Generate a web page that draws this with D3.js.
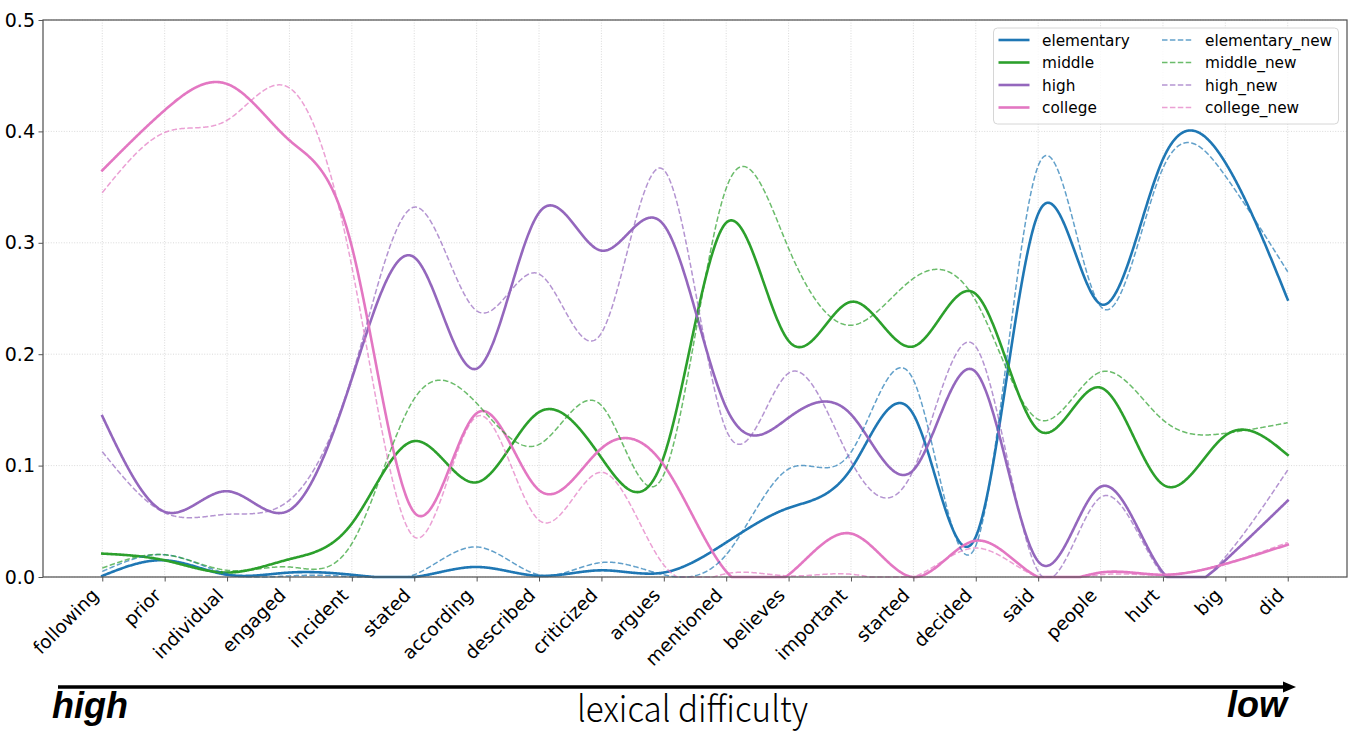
<!DOCTYPE html>
<html>
<head>
<meta charset="utf-8">
<script src="https://cdn.jsdelivr.net/npm/d3@7"></script>
<style>
  html, body { margin: 0; padding: 0; background: #fff; }
  svg { display: block; }
</style>
</head>
<body>
<svg id="chart" width="1357" height="735"></svg>
<script>
const categories = ["following","prior","individual","engaged","incident","stated","according","described","criticized","argues","mentioned","believes","important","started","decided","said","people","hurt","big","did"];

const elementary     = [0.001, 0.015, 0.002, 0.004, 0.002, 0.0, 0.009, 0.001, 0.006, 0.004, 0.031, 0.062, 0.097, 0.146, 0.036, 0.326, 0.245, 0.375, 0.372, 0.249];
const middle         = [0.021, 0.015, 0.004, 0.016, 0.048, 0.122, 0.085, 0.148, 0.107, 0.108, 0.318, 0.212, 0.247, 0.207, 0.254, 0.132, 0.170, 0.083, 0.127, 0.1095];
const high           = [0.1445, 0.0586, 0.077, 0.060, 0.178, 0.287, 0.187, 0.327, 0.293, 0.316, 0.152, 0.143, 0.146, 0.096, 0.184, 0.014, 0.081, 0.004, 0.015, 0.0685];
const college        = [0.365, 0.419, 0.4426, 0.392, 0.2965, 0.058, 0.147, 0.078, 0.1155, 0.1005, 0.005, 0.002, 0.039, 0.0, 0.0326, 0.0, 0.004, 0.002, 0.0117, 0.029];
const elementary_new = [0.005, 0.020, 0.003, 0.001, 0.0, 0.002, 0.027, 0.002, 0.013, 0.002, 0.020, 0.097, 0.112, 0.177, 0.028, 0.369, 0.243, 0.367, 0.360, 0.274];
const middle_new     = [0.008, 0.020, 0.006, 0.009, 0.030, 0.160, 0.156, 0.119, 0.154, 0.092, 0.349, 0.295, 0.226, 0.268, 0.248, 0.1415, 0.184, 0.141, 0.129, 0.1385];
const high_new       = [0.1125, 0.0577, 0.0563, 0.069, 0.180, 0.332, 0.239, 0.272, 0.219, 0.3654, 0.132, 0.183, 0.104, 0.096, 0.2067, 0.005, 0.0715, 0.002, 0.018, 0.096];
const college_new    = [0.345, 0.399, 0.410, 0.439, 0.2785, 0.036, 0.144, 0.051, 0.094, 0.0108, 0.003, 0.001, 0.0025, 0.0, 0.026, 0.0, 0.002, 0.002, 0.012, 0.031];

const yTicks = [0.0, 0.1, 0.2, 0.3, 0.4, 0.5];

const seriesNames = ["elementary","middle","high","college","elementary_new","middle_new","high_new","college_new"];
const seriesValues = [elementary, middle, high, college, elementary_new, middle_new, high_new, college_new];
const seriesColors = ["#1f77b4","#2ca02c","#9467bd","#e377c2","#1f77b4","#2ca02c","#9467bd","#e377c2"];
const seriesDashed = [false,false,false,false,true,true,true,true];

const svg = d3.select("#chart");
const L = 43, R = 1347, T = 20, B = 577;

const x = d3.scaleLinear().domain([-0.95, categories.length - 1 + 0.95]).range([L, R]);
const y = d3.scaleLinear().domain([0, 0.5]).range([B, T]);

// grid
const grid = svg.append("g");
grid.selectAll("line.vg").data(d3.range(categories.length)).enter().append("line")
  .attr("x1", d => x(d)).attr("x2", d => x(d)).attr("y1", T).attr("y2", B)
  .attr("stroke", "#d0d0d0").attr("stroke-width", 0.8).attr("stroke-dasharray", "1,1.6");
grid.selectAll("line.hg").data(yTicks).enter().append("line")
  .attr("x1", L).attr("x2", R).attr("y1", d => y(d)).attr("y2", d => y(d))
  .attr("stroke", "#d0d0d0").attr("stroke-width", 0.8).attr("stroke-dasharray", "1,1.6");

// lines
const curveGen = d3.line().x(d => d[0]).y(d => d[1]).curve(d3.curveNatural);
const linGen = d3.line();
const lines = svg.append("g");
seriesValues.forEach((vals, k) => {
  const pts = vals.map((v, i) => [x(i), y(v)]);
  const tmp = lines.append("path").attr("d", curveGen(pts)).attr("fill", "none");
  const node = tmp.node();
  const total = node.getTotalLength();
  const n = Math.ceil(total / 0.8);
  const sampled = [];
  for (let s = 0; s <= n; s++) {
    const p = node.getPointAtLength(total * s / n);
    sampled.push([p.x, Math.min(p.y, y(0))]);
  }
  tmp.remove();
  const path = lines.append("path")
    .attr("d", linGen(sampled))
    .attr("fill", "none")
    .attr("stroke", seriesColors[k])
    .attr("stroke-linejoin", "round");
  if (seriesDashed[k]) {
    path.attr("stroke-width", 1.5).attr("stroke-opacity", 0.7).attr("stroke-dasharray", "5.5,2.4");
  } else {
    path.attr("stroke-width", 2.6).attr("stroke-linecap", "square");
  }
});

// axes
const yAxis = svg.append("g").attr("transform", `translate(${L},0)`)
  .call(d3.axisLeft(y).tickValues(yTicks).tickFormat(d3.format(".1f")).tickSize(4.5).tickPadding(3.5).tickSizeOuter(0));
yAxis.select(".domain").remove();
yAxis.selectAll("line").attr("stroke", "#555").attr("stroke-width", 1);
yAxis.selectAll("text").attr("font-family", "DejaVu Sans").attr("font-size", "19px").attr("fill", "#000");

const xAxis = svg.append("g").attr("transform", `translate(0,${B})`)
  .call(d3.axisBottom(x).tickValues(d3.range(categories.length)).tickFormat(i => categories[i]).tickSize(4.5).tickSizeOuter(0));
xAxis.select(".domain").remove();
xAxis.selectAll("line").attr("stroke", "#555").attr("stroke-width", 1);
xAxis.selectAll("text")
  .attr("font-family", "DejaVu Sans").attr("font-size", "18.5px").attr("fill", "#000")
  .attr("x", 0).attr("y", 0).attr("dy", null)
  .attr("text-anchor", "end")
  .attr("transform", "translate(-3,19.5) rotate(-45)");

// frame
svg.append("rect").attr("x", L).attr("y", T).attr("width", R - L).attr("height", B - T)
  .attr("fill", "none").attr("stroke", "#555").attr("stroke-width", 1.25);

// legend
const lg = svg.append("g");
lg.append("rect").attr("x", 993.5).attr("y", 28).attr("width", 345).attr("height", 96).attr("rx", 4)
  .attr("fill", "#fff").attr("fill-opacity", 0.8).attr("stroke", "#d6d6d6").attr("stroke-width", 1);
seriesNames.forEach((name, k) => {
  const col = k < 4 ? 0 : 1;
  const row = k % 4;
  const lx = col === 0 ? 998.5 : 1162;
  const tx = col === 0 ? 1042 : 1205;
  const ly = 40 + row * 22.5;
  const ln = lg.append("line").attr("x1", lx).attr("x2", lx + 31).attr("y1", ly).attr("y2", ly)
    .attr("stroke", seriesColors[k]);
  if (seriesDashed[k]) ln.attr("stroke-width", 1.5).attr("stroke-opacity", 0.7).attr("stroke-dasharray", "5.5,2.4");
  else ln.attr("stroke-width", 2.6);
  lg.append("text").attr("x", tx).attr("y", ly + 5.5).text(name)
    .attr("font-family", "DejaVu Sans").attr("font-size", "15.3px").attr("fill", "#000");
});

// bottom arrow + labels
svg.append("line").attr("x1", 58).attr("x2", 1285).attr("y1", 687).attr("y2", 687)
  .attr("stroke", "#000").attr("stroke-width", 3.3);
svg.append("path").attr("d", "M1283,681.5 L1296,687 L1283,692.5 Z").attr("fill", "#000");
svg.append("text").attr("x", 52).attr("y", 718).text("high")
  .attr("font-family", "Liberation Sans, Arial, sans-serif").attr("font-weight", "bold").attr("font-style", "italic")
  .attr("font-size", "36px").attr("fill", "#000");
svg.append("text").attr("x", 1287).attr("y", 717).attr("text-anchor", "end").text("low")
  .attr("font-family", "Liberation Sans, Arial, sans-serif").attr("font-weight", "bold").attr("font-style", "italic")
  .attr("font-size", "36px").attr("fill", "#000");
svg.append("text").attr("x", 577).attr("y", 722).text("lexical difficulty")
  .attr("font-family", "Noto Sans CJK SC, Noto Sans, sans-serif").attr("font-weight", 300).attr("font-size", "36px").attr("fill", "#000")
  .attr("textLength", 231).attr("lengthAdjust", "spacingAndGlyphs");
</script>
</body>
</html>
